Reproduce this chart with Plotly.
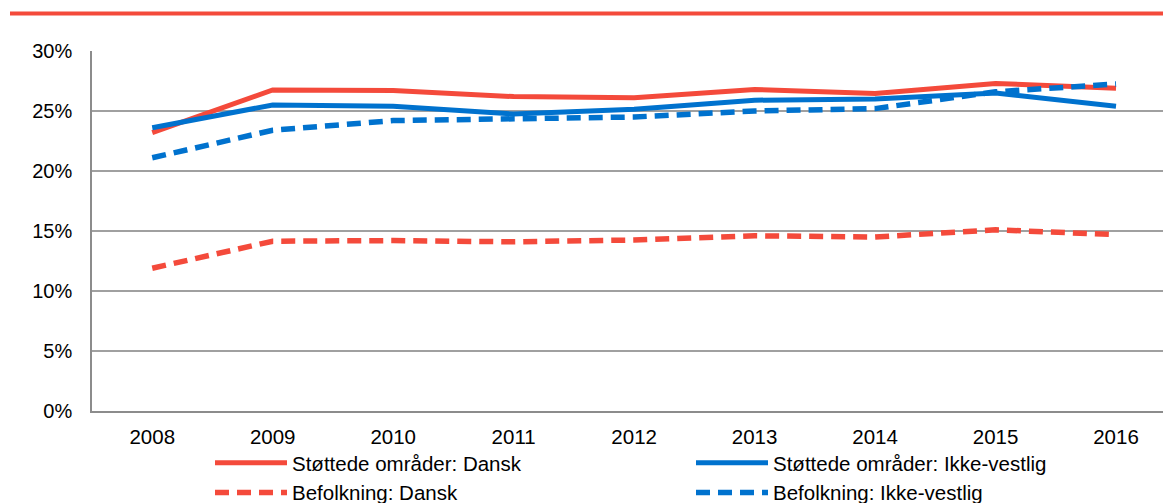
import plotly.graph_objects as go

years = ["2008", "2009", "2010", "2011", "2012", "2013", "2014", "2015", "2016"]
stottede_dansk = [23.2, 26.75, 26.7, 26.2, 26.1, 26.8, 26.45, 27.3, 26.9]
stottede_ikkevestlig = [23.6, 25.5, 25.4, 24.75, 25.15, 25.9, 26.0, 26.5, 25.4]
befolkning_dansk = [11.9, 14.15, 14.2, 14.1, 14.25, 14.6, 14.5, 15.1, 14.7]
befolkning_ikkevestlig = [21.1, 23.4, 24.2, 24.4, 24.5, 25.0, 25.2, 26.6, 27.25]
yticks = [0, 5, 10, 15, 20, 25, 30]
ytick_labels = ["0%", "5%", "10%", "15%", "20%", "25%", "30%"]

RED = "#F44A3B"
BLUE = "#0072CE"
FONT = "Liberation Sans, Arial, sans-serif"

xs = list(range(len(years)))

fig = go.Figure()
fig.add_trace(go.Scatter(x=xs, y=stottede_dansk, mode="lines", name="Støttede områder: Dansk",
                         line=dict(color=RED, width=5)))
fig.add_trace(go.Scatter(x=xs, y=stottede_ikkevestlig, mode="lines", name="Støttede områder: Ikke-vestlig",
                         line=dict(color=BLUE, width=5)))
fig.add_trace(go.Scatter(x=xs, y=befolkning_dansk, mode="lines", name="Befolkning: Dansk",
                         line=dict(color=RED, width=5.5, dash="14px,8px")))
fig.add_trace(go.Scatter(x=xs, y=befolkning_ikkevestlig, mode="lines", name="Befolkning: Ikke-vestlig",
                         line=dict(color=BLUE, width=5.5, dash="14px,8px")))

fig.update_layout(
    width=1163, height=503,
    margin=dict(l=92, r=0, t=51, b=92, autoexpand=False),
    paper_bgcolor="white", plot_bgcolor="white",
    font=dict(family=FONT, size=20, color="#000000"),
    showlegend=True,
    legend=dict(orientation="h", xref="container", yref="container",
                x=210 / 1163, xanchor="left", y=1 - 443 / 503, yanchor="top",
                entrywidth=394, entrywidthmode="pixels", itemwidth=72,
                font=dict(size=20.5, family=FONT), tracegroupgap=0,
                bgcolor="rgba(0,0,0,0)"),
    shapes=[dict(type="line", xref="paper", yref="paper",
                 x0=-82 / 1071, x1=1.0, y0=1 + 37.5 / 360, y1=1 + 37.5 / 360,
                 line=dict(color=RED, width=4))],
)
fig.update_xaxes(range=[-0.5, 8.39], tickvals=xs, ticktext=years, showgrid=False,
                 showline=True, linecolor="#8c8c8c", linewidth=2, ticks="", zeroline=False,
                 ticklabelstandoff=6, automargin=False, tickfont=dict(size=20.5, family=FONT))
fig.update_yaxes(range=[0, 30], tickvals=yticks, ticktext=ytick_labels, showgrid=True,
                 gridcolor="#a0a0a0", gridwidth=1.5, showline=True, linecolor="#8c8c8c",
                 linewidth=1.5, zeroline=False, ticks="", ticklabelstandoff=14,
                 automargin=False, tickfont=dict(size=20, family=FONT))

fig.write_html("out.html", config={"displayModeBar": False},
               post_script="document.body.style.margin='0px';")
